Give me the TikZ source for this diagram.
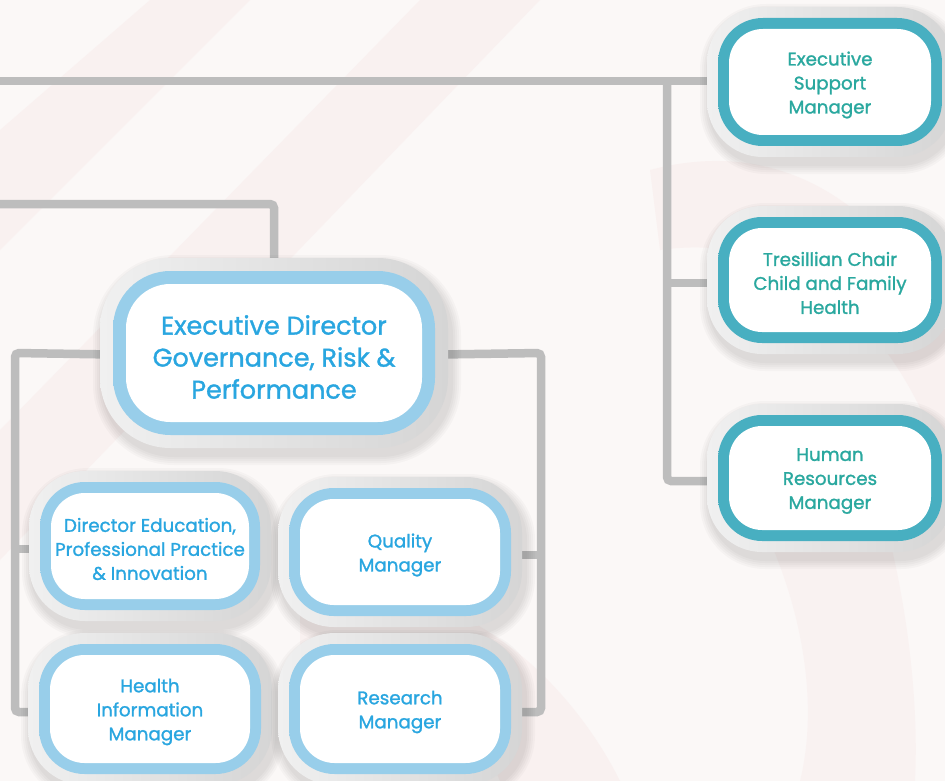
\documentclass[tikz,border=0pt]{standalone}
\usepackage{fontspec}
\setmainfont{Poppins}
\newfontfamily\boxfont{Poppins}[FakeBold=1.3]
\usetikzlibrary{calc}
\definecolor{bgc}{HTML}{FBF8F7}
\definecolor{swirl}{HTML}{F8E9E9}
\definecolor{linec}{HTML}{BDBDBD}
\definecolor{tealdark}{HTML}{27A6A2}
\definecolor{teallight}{HTML}{48AFC1}
\definecolor{tealtext}{HTML}{2AA89F}
\definecolor{bluedark}{HTML}{5AB8E4}
\definecolor{bluelight}{HTML}{98CEEA}
\definecolor{bluetext}{HTML}{29A6E0}
\definecolor{graylight}{HTML}{F0F0F0}
\definecolor{graydark}{HTML}{D5D5D5}
\pgfdeclarelayer{back}
\pgfdeclarelayer{conn}
\pgfsetlayers{back,conn,main}
\tikzset{
  conn/.style={draw=linec, line width=8.5pt, rounded corners=4pt},
  outerbox/.style={left color=graylight, right color=graydark},
  tealring/.style={left color=teallight, middle color=tealdark, right color=teallight},
  bluering/.style={left color=bluelight, middle color=bluedark, right color=bluelight},
  tealtxt/.style={text=tealtext, align=center, yshift=-3pt, font=\boxfont\fontsize{18.3}{24}\selectfont},
  bluetxt/.style={text=bluetext, align=center, yshift=-3pt, font=\boxfont\fontsize{18.3}{24}\selectfont},
  bigtxt/.style={text=bluetext, align=center, yshift=-4pt, font=\boxfont\fontsize{25.5}{32}\selectfont},
}
% #1 name, #2 cx, #3 cy, #4 half width of ring, #5 half height of ring, #6 ring style, #7 ring thickness, #8 text style, #9 text
\newcommand\orgbox[9]{%
  \pgfmathsetmacro\rr{0.7*#5}%
  \pgfmathsetmacro\ro{\rr+#7}%
  \pgfmathsetmacro\ri{\rr-#7}%
  \foreach \k in {1,...,5}{%
    \fill[black, opacity=0.025, rounded corners={\ro+\k*2}]
      ({#2-#4-#7-\k*2+3},{#3-#5-#7-\k*2+7}) rectangle ({#2+#4+#7+\k*2+3},{#3+#5+#7+\k*2+7});}
  \shade[outerbox, rounded corners=\ro] ({#2-#4-#7},{#3-#5-#7}) rectangle ({#2+#4+#7},{#3+#5+#7});
  \shade[#6, rounded corners=\rr] ({#2-#4},{#3-#5}) rectangle ({#2+#4},{#3+#5});
  \fill[white, rounded corners=\ri] ({#2-#4+#7},{#3-#5+#7}) rectangle ({#2+#4-#7},{#3+#5-#7});
  \node[#8] (#1) at (#2,#3) {#9};
}
\begin{document}
\begin{tikzpicture}[x=1pt,y=-1pt]
\useasboundingbox (0,0) rectangle (945,781);
\begin{pgfonlayer}{back}
  \fill[bgc] (0,0) rectangle (945,781);
  \fill[swirl, opacity=0.45] (0,130) -- (150,0) -- (250,0) -- (0,250) -- cycle;
  \fill[swirl, opacity=0.45] (420,0) -- (540,0) -- (0,560) -- (0,430) -- cycle;
  \fill[swirl, opacity=0.45] (650,170) .. controls (800,130) and (900,230) .. (945,330)
        -- (945,470) .. controls (900,330) and (800,230) .. (660,250) -- cycle;
  \fill[swirl, opacity=0.45] (300,600) .. controls (450,560) and (570,680) .. (620,781)
        -- (500,781) .. controls (460,690) and (380,640) .. (300,660) -- cycle;
  \fill[swirl, opacity=0.4] (870,470) .. controls (900,560) and (920,680) .. (915,781)
        -- (800,781) .. controls (820,700) and (800,600) .. (760,520) -- cycle;
\end{pgfonlayer}

\orgbox{ESM}{830}{82}{112}{64}{tealring}{11}{tealtxt}{Executive\\Support\\Manager}
\orgbox{TC}{830}{280}{112}{63}{tealring}{11}{tealtxt}{Tresillian Chair\\Child and Family\\Health}
\orgbox{HR}{830}{478}{112}{63}{tealring}{11}{tealtxt}{Human\\Resources\\Manager}
\orgbox{ED}{274}{353}{161}{82}{bluering}{13}{bigtxt}{Executive Director\\Governance, Risk \&\\Performance}
\orgbox{DE}{150}{546}{110}{64}{bluering}{11}{bluetxt}{Director Education,\\Professional Practice\\\& Innovation}
\orgbox{QM}{400}{552}{111}{64}{bluering}{11}{bluetxt}{Quality\\Manager}
\orgbox{HIM}{150}{709}{111}{65}{bluering}{11}{bluetxt}{Health\\Information\\Manager}
\orgbox{RM}{400}{709}{111}{65}{bluering}{11}{bluetxt}{Research\\Manager}

\coordinate (L1) at (0,81);
\coordinate (L2) at (0,204);
\coordinate (J1) at (667,81);
\coordinate (J2) at (15,353);
\coordinate (J3) at (541,353);
\begin{pgfonlayer}{conn}
  \draw[conn] (L1) -- (L1 -| ESM);
  \draw[conn] (J1) |- (HR);
  \draw[conn] (J1 |- TC) -- (TC);
  \draw[conn] (L2) -| (ED);
  \draw[conn] (ED) -- (J2) |- (HIM);
  \draw[conn] (J2 |- DE) -- (DE);
  \draw[conn] (ED) -- (J3) |- (RM);
  \draw[conn] (J3 |- QM) -- (QM);
\end{pgfonlayer}
\end{tikzpicture}
\end{document}
